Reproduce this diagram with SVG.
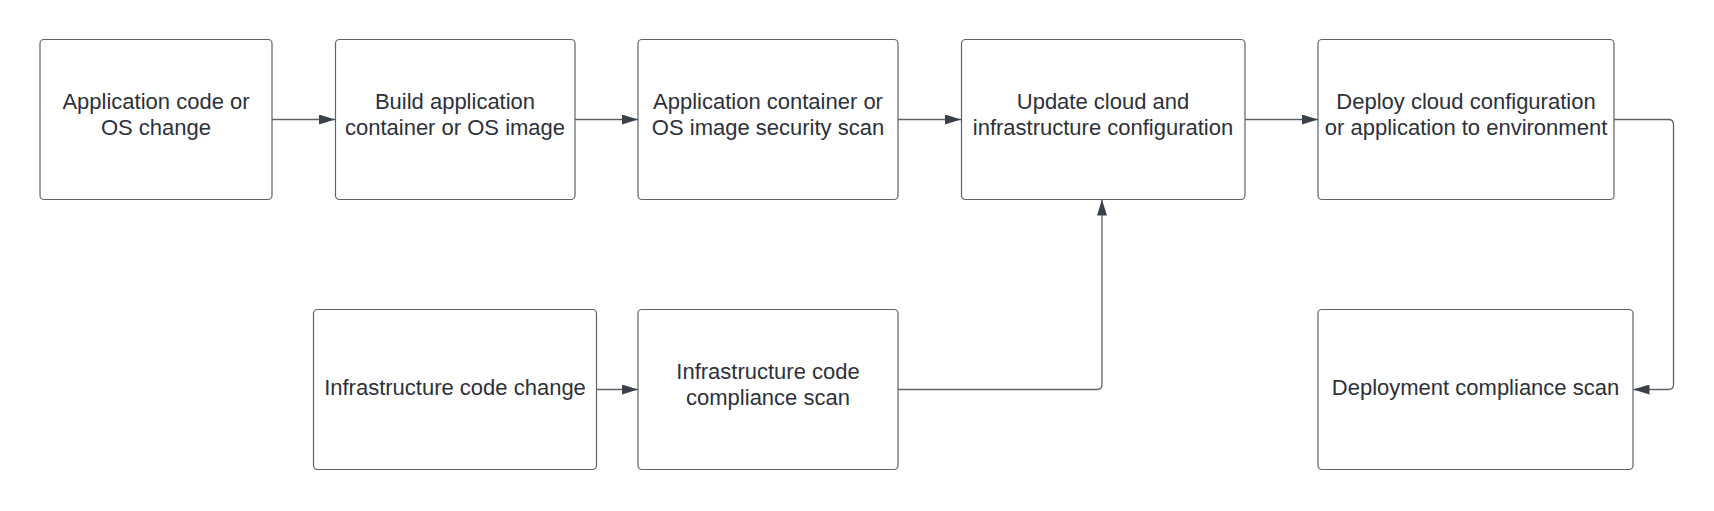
<svg xmlns="http://www.w3.org/2000/svg" width="1714" height="511" viewBox="0 0 1714 511">
<defs>
<style>
.box{fill:#ffffff;stroke:#5e6269;stroke-width:1.2}
.t{font-family:"Liberation Sans",Arial,sans-serif;font-size:22px;fill:#2d3139;text-anchor:middle}
.c{fill:none;stroke:#5e6269;stroke-width:1.3}
</style>
<marker id="ah" viewBox="0 0 16 10" refX="16" refY="5" markerWidth="16" markerHeight="10" markerUnits="userSpaceOnUse" orient="auto">
<path d="M0,0 L16,5 L0,10 Z" fill="#3a414a"/>
</marker>
</defs>
<rect width="1714" height="511" fill="#ffffff"/>
<g id="connectors">
<path class="c" d="M272,119.5 H335" marker-end="url(#ah)"/>
<path class="c" d="M575,119.5 H638" marker-end="url(#ah)"/>
<path class="c" d="M898,119.5 H961" marker-end="url(#ah)"/>
<path class="c" d="M1245,119.5 H1318" marker-end="url(#ah)"/>
<path class="c" d="M1614,119.5 H1668.5 Q1673.5,119.5 1673.5,124.5 V384.5 Q1673.5,389.5 1668.5,389.5 H1633.5" marker-end="url(#ah)"/>
<path class="c" d="M596.5,389.5 H638" marker-end="url(#ah)"/>
<path class="c" d="M898,389.5 H1097 Q1102,389.5 1102,384.5 V199.5" marker-end="url(#ah)"/>
</g>
<g id="n1"><rect class="box" x="40" y="39.5" width="232" height="160" rx="4"/>
<text class="t" x="156" y="109">Application code or</text><text class="t" x="156" y="135">OS change</text></g>
<g id="n2"><rect class="box" x="335.5" y="39.5" width="239.5" height="160" rx="4"/>
<text class="t" x="455" y="109">Build application</text><text class="t" x="455" y="135">container or OS image</text></g>
<g id="n3"><rect class="box" x="638" y="39.5" width="260" height="160" rx="4"/>
<text class="t" x="768" y="109">Application container or</text><text class="t" x="768" y="135">OS image security scan</text></g>
<g id="n4"><rect class="box" x="961.5" y="39.5" width="283.5" height="160" rx="4"/>
<text class="t" x="1103" y="109">Update cloud and</text><text class="t" x="1103" y="135">infrastructure configuration</text></g>
<g id="n5"><rect class="box" x="1318" y="39.5" width="296" height="160" rx="4"/>
<text class="t" x="1466" y="109">Deploy cloud configuration</text><text class="t" x="1466" y="135">or application to environment</text></g>
<g id="n6"><rect class="box" x="313.5" y="309.5" width="283" height="160" rx="4"/>
<text class="t" x="455" y="394.5">Infrastructure code change</text></g>
<g id="n7"><rect class="box" x="638" y="309.5" width="260" height="160" rx="4"/>
<text class="t" x="768" y="379">Infrastructure code</text><text class="t" x="768" y="405">compliance scan</text></g>
<g id="n8"><rect class="box" x="1318" y="309.5" width="315" height="160" rx="4"/>
<text class="t" x="1475.5" y="394.5">Deployment compliance scan</text></g>
</svg>
